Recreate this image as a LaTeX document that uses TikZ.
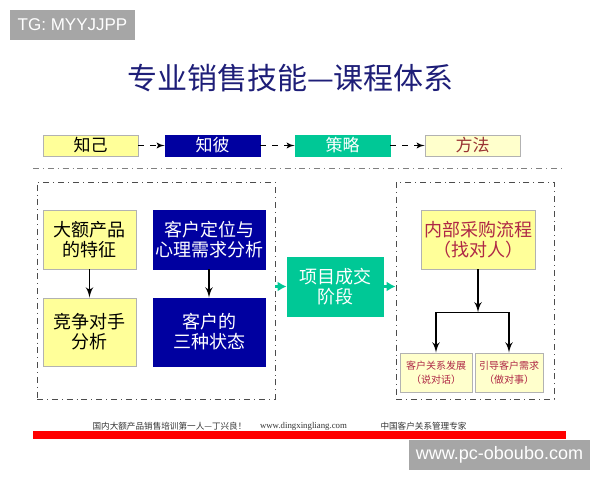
\documentclass[tikz,border=0pt]{standalone}
\usepackage{fontspec}
\newfontfamily\cjk{Noto Sans CJK SC}
\newfontfamily\arialfont{Liberation Sans}
\newfontfamily\timesfont{Liberation Serif}
\usepackage{tikz}
\usetikzlibrary{arrows,arrows.meta}

\definecolor{lightyellow}{RGB}{255,255,153}
\definecolor{paleyellow}{RGB}{255,255,204}
\definecolor{navy}{RGB}{0,0,160}
\definecolor{tealgreen}{RGB}{0,200,150}
\definecolor{titleblue}{RGB}{30,30,120}
\definecolor{crimson}{RGB}{175,40,70}
\definecolor{brownred}{RGB}{153,51,51}
\definecolor{markgray}{RGB}{166,166,166}

\tikzset{
  box/.style={draw=gray!60, inner sep=0pt, align=center, font=\cjk\fontsize{9pt}{10pt}\selectfont},
  yellowbox/.style={box, fill=lightyellow},
  navybox/.style={box, draw=navy, fill=navy, text=white},
  topbox/.style={box, minimum width=47.5pt, minimum height=10.5pt, font=\cjk\fontsize{8.5pt}{9pt}\selectfont},
  smallbox/.style={box, fill=paleyellow, text=crimson, minimum height=19.5pt, font=\cjk\fontsize{5pt}{7pt}\selectfont},
  framebox/.style={draw=black!70, dash dot, line width=0.4pt, minimum height=108.5pt, inner sep=0pt},
  markbox/.style={fill=markgray, text=white, minimum height=15pt, inner sep=0pt},
  footer/.style={text=black!80, inner sep=0pt, font=\cjk\fontsize{4.3pt}{5pt}\selectfont},
  greenarrow/.style={-{Latex[length=4.5pt,width=5pt]}, draw=tealgreen, fill=tealgreen, line width=1.5pt}
}

\begin{document}
\begin{tikzpicture}[x=0.5pt, y=-0.5pt, >=latex']
    \useasboundingbox (0,0) rectangle (600,480);

    % Kopf
    \node[markbox, minimum width=62.5pt] (tg) at (72.5,25) {\arialfont\fontsize{8.5pt}{9pt}\selectfont TG: MYYJJPP};
    \node[text=titleblue, font=\cjk\fontsize{15pt}{18pt}\selectfont] (title) at (290.5,78) {专业销售技能—课程体系};

    % Reihe oben
    \node[topbox, fill=lightyellow] (self) at (90.5,145.5) {知己};
    \node[topbox, draw=navy, fill=navy, text=white] (other) at (212.5,145.5) {知彼};
    \node[topbox, draw=tealgreen, fill=tealgreen, text=white] (plan) at (342.5,145.5) {策略};
    \node[topbox, fill=paleyellow, text=brownred] (method) at (472.5,145.5) {方法};
    \draw[->, dashed] (self) -- (other);
    \draw[->, dashed] (other) -- (plan);
    \draw[->, dashed] (plan) -- (method);

    \coordinate (sepl) at (33,168);
    \coordinate (sepr) at (565,168);
    \draw[black!50, dash dot, line width=0.4pt] (sepl) -- (sepr);

    % Rahmen
    \node[framebox, minimum width=119pt] (left) at (156,290.5) {};
    \node[framebox, minimum width=79pt] (right) at (475,290.5) {};

    % links
    \node[yellowbox, minimum width=46.5pt, minimum height=29.5pt] (product) at (89.5,239.5) {大额产品\\的特征};
    \node[yellowbox, minimum width=46.5pt, minimum height=34pt] (rival) at (89.5,332) {竞争对手\\分析};
    \node[navybox, minimum width=56pt, minimum height=29.5pt] (locate) at (209,239.5) {客户定位与\\心理需求分析};
    \node[navybox, minimum width=56pt, minimum height=34pt] (states) at (209,332) {客户的\\三种状态};
    \draw[->, thick] (product) -- (rival);
    \draw[->, thick] (locate) -- (states);

    % Mitte
    \node[box, draw=tealgreen, fill=tealgreen, text=white, minimum width=48pt, minimum height=29.5pt] (deal) at (335,286.5) {项目成交\\阶段};
    \draw[greenarrow] (left.east |- deal.west) -- (deal.west);
    \draw[greenarrow] (deal.east) -- (deal.east -| right.west);

    % rechts
    \node[yellowbox, text=crimson, minimum width=57pt, minimum height=29.5pt] (buy) at (478,239.5) {内部采购流程\\（找对人）};
    \node[smallbox, minimum width=36pt] (rel) at (436,372.5) {客户关系发展\\（说对话）};
    \node[smallbox, minimum width=34pt] (need) at (509,372.5) {引导客户需求\\（做对事）};
    \path (buy.south) ++(0,43) coordinate (fork);
    \draw[->, thick] (buy) -- (fork);
    \draw[->, thick] (fork) -| (rel);
    \draw[->, thick] (fork) -| (need);

    % Fuss
    \node[footer] (slogan) at (169.5,426) {国内大额产品销售培训第一人—丁兴良！};
    \node[footer, font=\timesfont\fontsize{4.4pt}{5pt}\selectfont] (site) at (303.5,426) {www.dingxingliang.com};
    \node[footer] (expert) at (423.5,426) {中国客户关系管理专家};
    \fill[red] (33,431) rectangle (566,439);
    \node[markbox, minimum width=90.5pt] (wm) at (499.5,455) {\arialfont\fontsize{9pt}{10pt}\selectfont www.pc-oboubo.com};
\end{tikzpicture}
\end{document}
